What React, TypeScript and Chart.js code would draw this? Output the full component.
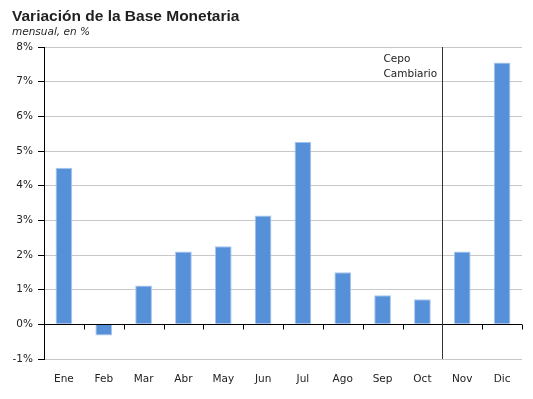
import React, { useEffect, useRef } from "react";
import { Chart, registerables } from "chart.js";

Chart.register(...registerables);

const categories = ["Ene", "Feb", "Mar", "Abr", "May", "Jun", "Jul", "Ago", "Sep", "Oct", "Nov", "Dic"];
const values = [4.52, -0.32, 1.12, 2.1, 2.25, 3.14, 5.27, 1.5, 0.84, 0.72, 2.1, 7.55];
const title = "Variación de la Base Monetaria";
const subtitle = "mensual, en %";
const annotationLines = ["Cepo", "Cambiario"];
const markerAfterIndex = 9;

const FONT = "'DejaVu Sans', Verdana, sans-serif";

const overlay = {
  id: "overlay",
  beforeDraw(chart: any) {
    const ctx = chart.ctx;
    ctx.save();
    ctx.fillStyle = "#fff";
    ctx.fillRect(0, 0, chart.width, chart.height);
    ctx.fillStyle = "#1f1f1f";
    ctx.textBaseline = "alphabetic";
    ctx.textAlign = "left";
    ctx.font = `bold 15.5px 'Liberation Sans', Arial, sans-serif`;
    ctx.fillText(title, 12, 21);
    ctx.font = `italic 10.5px ${FONT}`;
    ctx.fillText(subtitle, 12, 35);
    ctx.restore();
  },
  afterDatasetsDraw(chart: any) {
    const ctx = chart.ctx;
    const { left, right, top, bottom } = chart.chartArea;
    const y = chart.scales.y;
    const x = chart.scales.x;
    const y0 = Math.round(y.getPixelForValue(0)) + 0.5;
    ctx.save();
    ctx.strokeStyle = "#000";
    ctx.lineWidth = 1;
    ctx.beginPath();
    ctx.moveTo(left, y0);
    ctx.lineTo(right, y0);
    const n = categories.length;
    const step = (right - left) / n;
    for (let i = 1; i <= n; i++) {
      const xx = Math.round(left + i * step) + 0.5;
      ctx.moveTo(xx, y0);
      ctx.lineTo(xx, y0 + 5);
    }
    ctx.stroke();
    const xm = Math.round((x.getPixelForValue(markerAfterIndex) + x.getPixelForValue(markerAfterIndex + 1)) / 2) + 0.5;
    ctx.strokeStyle = "#333";
    ctx.beginPath();
    ctx.moveTo(xm, top);
    ctx.lineTo(xm, bottom);
    ctx.stroke();
    ctx.fillStyle = "#222";
    ctx.font = `10.5px ${FONT}`;
    ctx.textAlign = "left";
    ctx.textBaseline = "alphabetic";
    const tx = xm - 59;
    ctx.fillText(annotationLines[0], tx, 62);
    ctx.fillText(annotationLines[1], tx, 77);
    ctx.restore();
  },
};

export default function App() {
  const ref = useRef<HTMLCanvasElement>(null);
  useEffect(() => {
    if (!ref.current) return;
    const chart = new Chart(ref.current, {
      type: "bar",
      data: {
        labels: categories,
        datasets: [
          {
            data: values,
            backgroundColor: "#5590d8",
            borderColor: "#a9c6ee",
            borderWidth: 1,
            barPercentage: 0.42,
            categoryPercentage: 1,
          },
        ],
      },
      options: {
        responsive: false,
        animation: false,
        layout: { padding: { top: 47, right: 11, left: 0, bottom: 0 } },
        plugins: { legend: { display: false }, tooltip: { enabled: false } },
        scales: {
          x: {
            grid: { display: false },
            border: { display: false },
            ticks: { color: "#222", font: { family: FONT, size: 10.5 }, padding: 6 },
            afterFit: (s: any) => {
              s.height = 40;
            },
          },
          y: {
            min: -1,
            max: 8,
            ticks: {
              stepSize: 1,
              color: "#222",
              font: { family: FONT, size: 10.5 },
              padding: 5,
              callback: (v: any) => `${v}%`,
            },
            grid: { color: "#c8c8c8", tickColor: "#000", tickLength: 6 },
            border: { display: true, color: "#000" },
            afterFit: (s: any) => {
              s.width = 44;
            },
          },
        },
      },
      plugins: [overlay],
    });
    return () => chart.destroy();
  }, []);
  return (
    <div style={{ position: "absolute", left: 0, top: 0 }}>
      <canvas ref={ref} width={533} height={399} />
    </div>
  );
}
